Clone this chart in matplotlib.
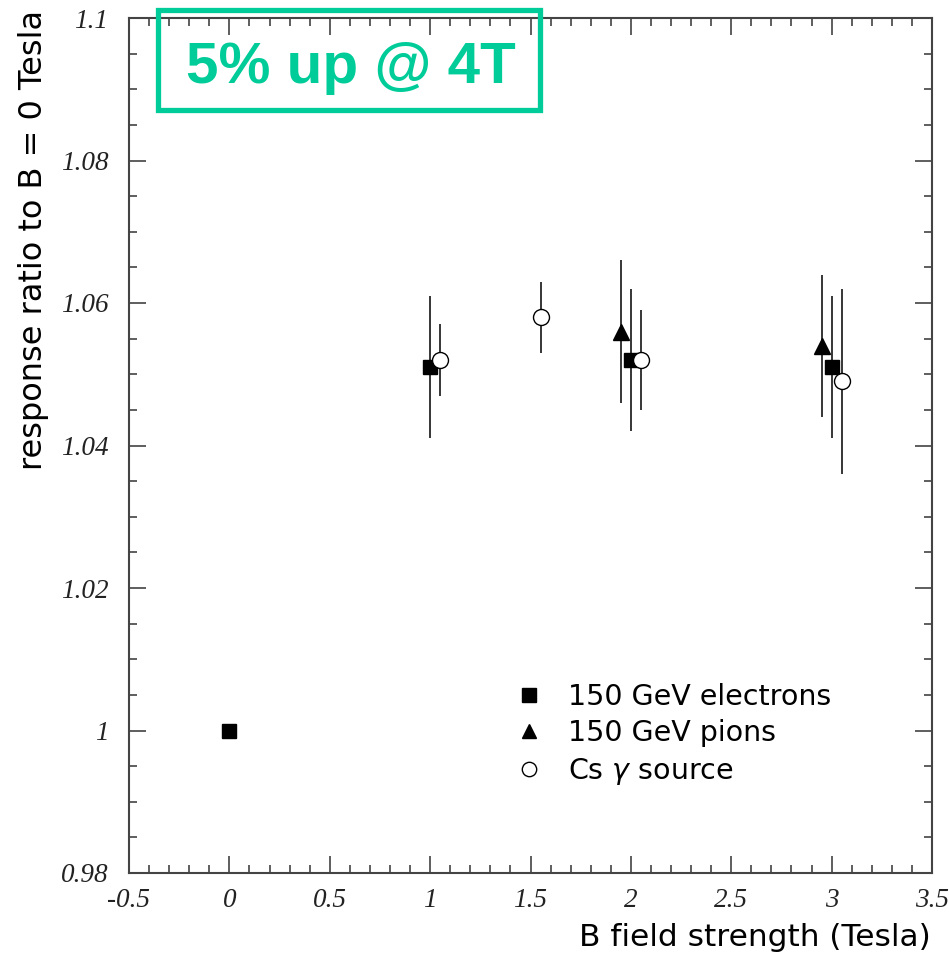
import matplotlib
matplotlib.use("Agg")
import matplotlib.pyplot as plt
from matplotlib.patches import Rectangle
from matplotlib.ticker import MultipleLocator, FormatStrFormatter

# data
elec_x = [0.0, 1.0, 2.0, 3.0]
elec_y = [1.000, 1.051, 1.052, 1.051]
elec_err = [0.0, 0.010, 0.010, 0.010]

pion_x = [1.95, 2.95]
pion_y = [1.056, 1.054]
pion_err = [0.010, 0.010]

cs_x = [1.05, 1.55, 2.05, 3.05]
cs_y = [1.052, 1.058, 1.052, 1.049]
cs_err = [0.005, 0.005, 0.007, 0.013]

W, H = 949, 957
fig = plt.figure(figsize=(W / 100, H / 100), dpi=100)
ax = fig.add_axes([129 / W, 1 - 873 / H, (932 - 129) / W, (873 - 18) / H])

ekw = dict(ls="none", ecolor="black", elinewidth=1.1, capsize=0, mec="black", mew=1.0)
ax.errorbar(elec_x, elec_y, yerr=elec_err, fmt="s", ms=10.5, mfc="black",
            label="150 GeV electrons", zorder=3, **ekw)
ax.errorbar(pion_x, pion_y, yerr=pion_err, fmt="^", ms=11, mfc="black",
            label="150 GeV pions", zorder=3, **ekw)
ax.errorbar(cs_x, cs_y, yerr=cs_err, fmt="o", ms=11.5, mfc="white",
            label=r"Cs $\gamma$ source", zorder=4, **ekw)

ax.set_xlim(-0.5, 3.5)
ax.set_ylim(0.98, 1.1)
ax.xaxis.set_major_locator(MultipleLocator(0.5))
ax.xaxis.set_minor_locator(MultipleLocator(0.1))
ax.yaxis.set_major_locator(MultipleLocator(0.02))
ax.yaxis.set_minor_locator(MultipleLocator(0.005))
ax.xaxis.set_major_formatter(FormatStrFormatter("%g"))
ax.yaxis.set_major_formatter(FormatStrFormatter("%g"))

for s in ax.spines.values():
    s.set_color("#444444")
    s.set_linewidth(1.5)
ax.tick_params(which="both", direction="in", top=True, right=True,
               color="#333333", width=1.1)
ax.tick_params(which="major", length=12)
ax.tick_params(which="minor", length=6)
ax.tick_params(axis="y", which="major", pad=15)
ax.tick_params(axis="x", which="major", pad=11)
for lab in ax.get_xticklabels() + ax.get_yticklabels():
    lab.set_fontfamily("Liberation Serif")
    lab.set_fontstyle("italic")
    lab.set_fontsize(19.5)
    lab.set_color("#222222")

ax.set_xlabel("B field strength (Tesla)", fontsize=22.5, family="DejaVu Sans", loc="right")
ax.xaxis.set_label_coords(0.998, -0.058)
ax.set_ylabel("response ratio to B = 0 Tesla", fontsize=23, family="DejaVu Sans", loc="top")
ax.yaxis.set_label_coords(-0.1, 1.009)

handles, labels = ax.get_legend_handles_labels()
handles = [h[0] for h in handles]
ax.legend(handles, labels, loc="upper left", bbox_to_anchor=(0.481, 0.222),
          frameon=False, prop={"family": "DejaVu Sans", "size": 20.5},
          handlelength=1.0, handletextpad=0.85, labelspacing=0.29, markerscale=0.9,
          borderpad=0, borderaxespad=0)

# green annotation box
fig.add_artist(Rectangle((158 / W, 1 - 110 / H), (540 - 158) / W, 100 / H,
                         transform=fig.transFigure, fill=False,
                         edgecolor="#00cc99", linewidth=3.8, zorder=10))
fig.text(351 / W, 1 - 83 / H, "5% up @ 4T", color="#00cc99", fontsize=42,
         fontweight="bold", family="Liberation Sans", ha="center", va="baseline", zorder=11)

fig.savefig("out.png", dpi=100)
